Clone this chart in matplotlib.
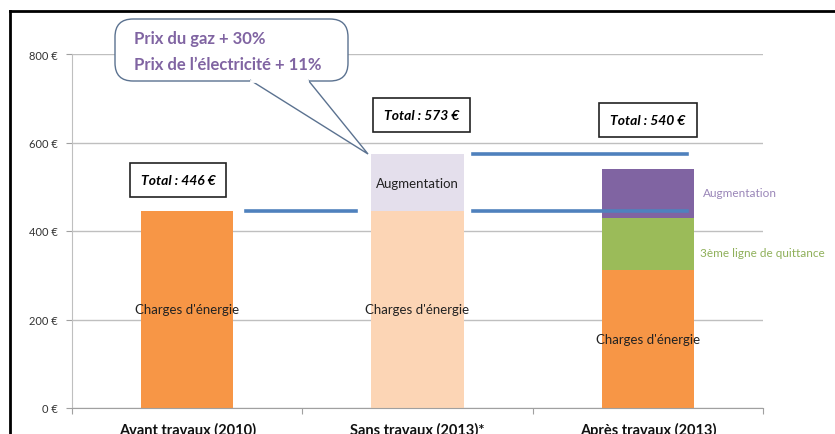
import matplotlib
matplotlib.use("Agg")
import matplotlib.pyplot as plt
from matplotlib.lines import Line2D
from matplotlib.patches import FancyBboxPatch, Polygon
import matplotlib.transforms as mtransforms
import numpy as np

plt.rcParams['font.family'] = ['Lato', 'DejaVu Sans']

# donnees
categories = ['Avant travaux (2010)', 'Sans travaux (2013)*', 'Après travaux (2013)']
charges = [446, 446, 312]
quittance = [0, 0, 117]
augmentation = [0, 127, 111]
totals = [446, 573, 540]
yticks = [0, 200, 400, 600, 800]

orange = '#F79646'
orange_clair = '#FCD5B5'
violet_clair = '#E4DFEC'
violet = '#8064A2'
vert = '#9BBB59'
bleu = '#4F81BD'

W, H = 835, 435
fig = plt.figure(figsize=(W / 100, H / 100), dpi=100)
ax = fig.add_axes([72 / W, (H - 409) / H, (763 - 72) / W, (409 - 55) / H])

x = np.arange(len(categories))
w = 0.4

ax.bar(x, charges, w, color=[orange, orange_clair, orange], zorder=2)
ax.bar(x, quittance, w, bottom=charges, color=vert, zorder=2)
bot = np.array(charges) + np.array(quittance)
ax.bar(x, augmentation, w, bottom=bot, color=[violet_clair, violet_clair, violet], zorder=2)

# textes dans les barres
for i in range(3):
    ax.text(x[i], charges[i] / 2, "Charges d'énergie", ha='center', va='center',
            fontsize=9.5, color='#222222', zorder=3)
ax.text(x[1], charges[1] + augmentation[1] / 2, 'Augmentation', ha='center', va='center',
        fontsize=9.5, color='#222222', zorder=3)
ax.text(2.239, 486, 'Augmentation', ha='left', va='center', fontsize=8.5, color='#9A86B8')
ax.text(2.225, 352, '3ème ligne de quittance', ha='left', va='center', fontsize=8.5, color='#8FB05A')

# lignes bleues
ax.plot([0.255, 0.735], [totals[0], totals[0]], color=bleu, lw=2.6, zorder=4)
ax.plot([1.239, 2.17], [totals[0], totals[0]], color=bleu, lw=2.6, zorder=4)
ax.plot([1.239, 2.17], [totals[1], totals[1]], color=bleu, lw=2.6, zorder=4)

# totaux
tot_x = [-0.04, 1.017, 2.0]
tot_y = [515, 662, 651]
for i in range(3):
    ax.text(tot_x[i], tot_y[i], 'Total : %d €' % totals[i], ha='center', va='center',
            fontsize=10, fontweight='bold', fontstyle='italic', color='black',
            bbox=dict(boxstyle='square,pad=0.8', fc='white', ec='#222222', lw=1.2), zorder=5)

ax.set_xlim(-0.5, 2.5)
ax.set_ylim(0, 800)
ax.set_yticks(yticks)
ax.set_yticklabels(['%d €' % v for v in yticks], fontsize=8, color='#333333')
ax.set_xticks([-0.5, 0.5, 1.5, 2.5])
ax.set_xticklabels([])
ax.set_xticks(x, minor=True)
ax.set_xticklabels(categories, minor=True, fontsize=10.5, fontweight='bold', color='#111111')
ax.tick_params(axis='x', which='minor', length=0, pad=10)
ax.tick_params(axis='x', which='major', length=4, color='#A0A0A0', direction='out')
ax.tick_params(axis='y', length=4, color='#A0A0A0', pad=6)
ax.grid(axis='y', color='#BFBFBF', lw=1, zorder=0)
ax.set_axisbelow(True)
for s in ['top', 'right']:
    ax.spines[s].set_visible(False)
ax.spines['left'].set_color('#BFBFBF')
ax.spines['bottom'].set_color('#A0A0A0')

# coordonnees en pixels (origine en haut a gauche)
pix = mtransforms.Affine2D().scale(1 / W, -1 / H).translate(0, 1) + fig.transFigure

# cadre
fig.add_artist(Line2D([10, W], [12, 12], transform=pix, color='black', lw=2))
fig.add_artist(Line2D([10, 10], [12, H], transform=pix, color='black', lw=2))

# bulle
edge = '#5B7290'
box = FancyBboxPatch((115, 20), 233, 62, boxstyle='round,pad=0,rounding_size=18',
                     transform=pix, fc='white', ec=edge, lw=1.0, zorder=6)
fig.add_artist(box)
tail = Polygon([[250, 81], [368, 155], [308, 81]], closed=False, transform=pix,
               fc='white', ec=edge, lw=1.0, zorder=7)
fig.add_artist(tail)
fig.add_artist(Line2D([251, 307], [81.5, 81.5], transform=pix, color='white', lw=2, zorder=8))
fig.text(134 / W, 1 - 39 / H, 'Prix du gaz + 30%', fontsize=12, fontweight='bold',
         color=violet, va='center', zorder=9)
fig.text(134 / W, 1 - 65 / H, 'Prix de l\u2019électricité + 11%', fontsize=12, fontweight='bold',
         color=violet, va='center', zorder=9)

fig.savefig('out.png', dpi=100)
